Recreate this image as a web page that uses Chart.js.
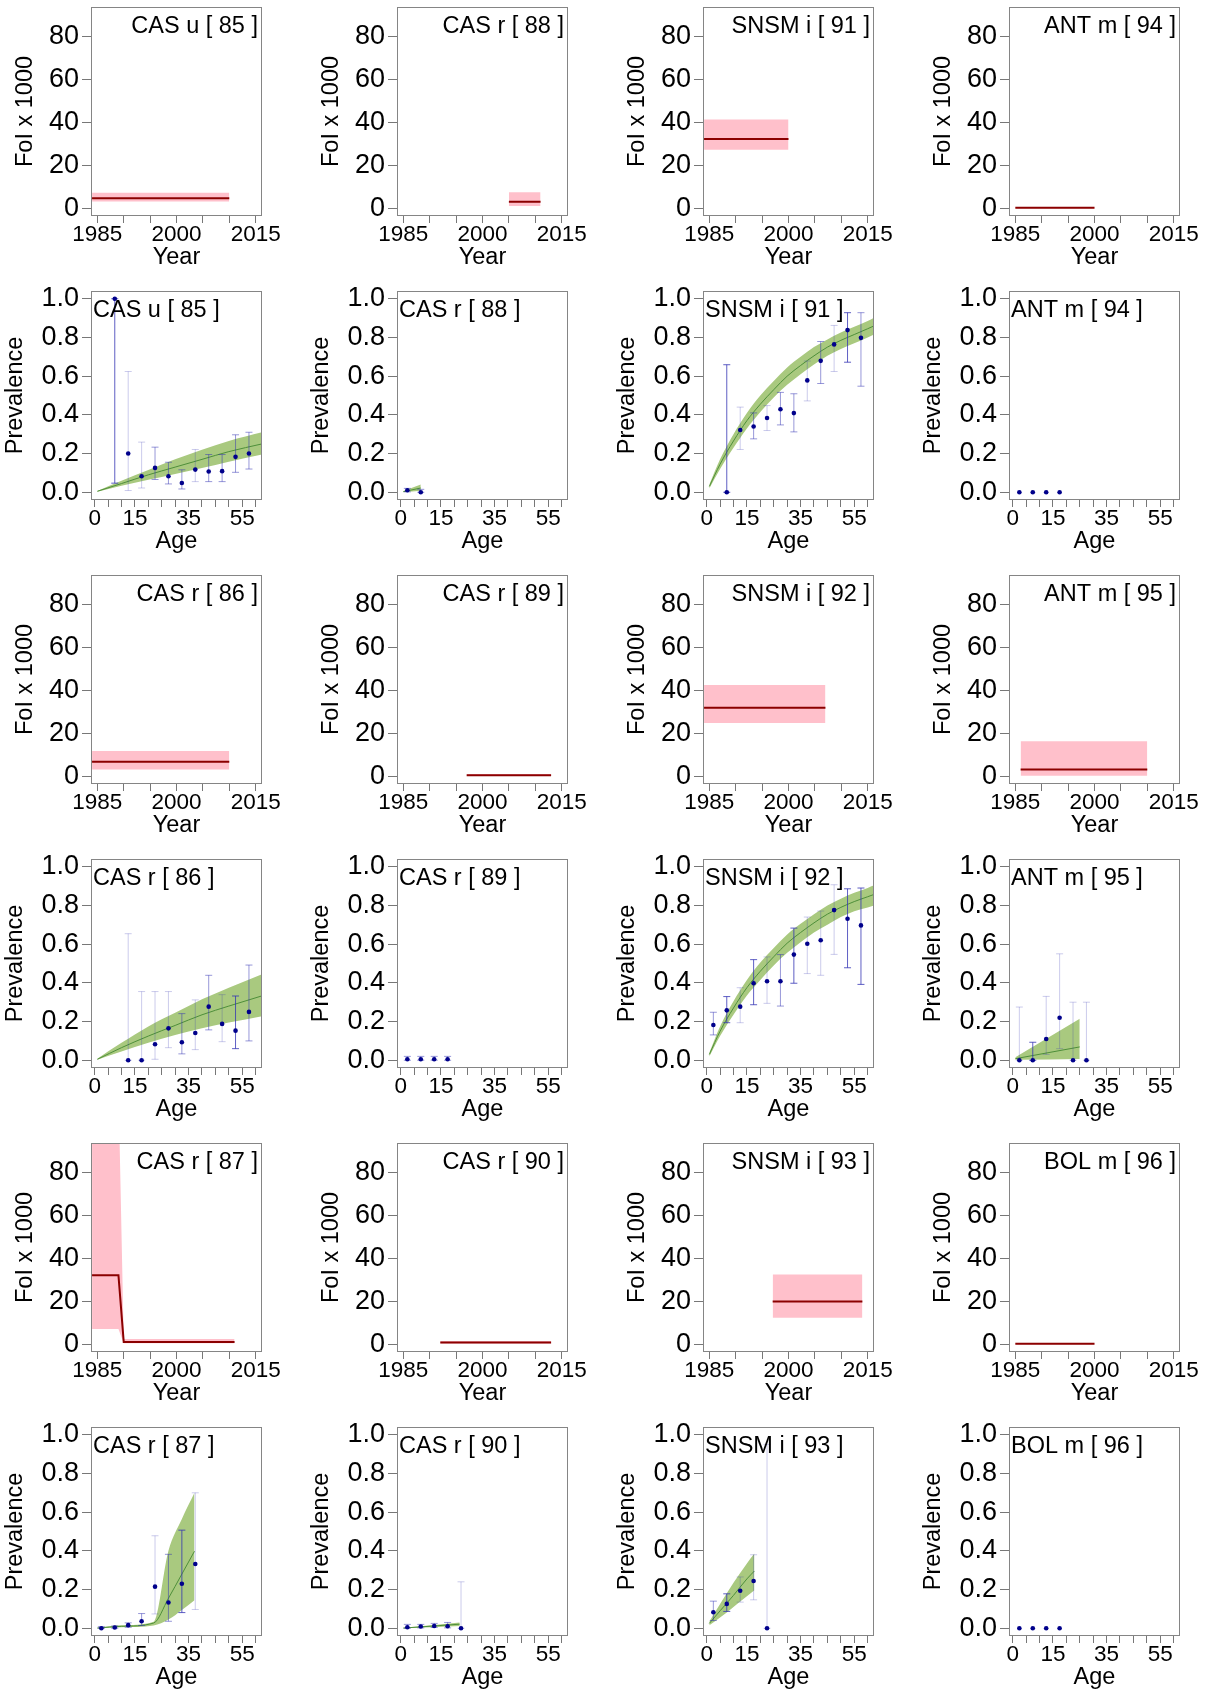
<!DOCTYPE html>
<html lang="en">
<head>
<meta charset="UTF-8" />
<title>FoI and seroprevalence by population</title>
<script src="https://cdn.jsdelivr.net/npm/chart.js@4"></script>
<style>
  body { margin: 0; background: #fff; }
  #wrap { position: relative; width: 1212px; height: 1695px; overflow: hidden; }
  canvas { position: absolute; }
</style>
</head>
<body>
<div id="wrap"></div>
<script>
// ---------- force of infection (x 1000) by year ----------
const years85 = [1984, 2010], foi85 = [4.6, 4.6], foiLo85 = [3.2, 3.2], foiHi85 = [7.2, 7.2];
const years88 = [2005, 2011], foi88 = [3.0, 3.0], foiLo88 = [1.1, 1.1], foiHi88 = [7.4, 7.4];
const years91 = [1984, 2000], foi91 = [32.2, 32.2], foiLo91 = [27.2, 27.2], foiHi91 = [41.3, 41.3];
const years94 = [1985, 2000], foi94 = [0.2, 0.2], foiLo94 = [0.0, 0.0], foiHi94 = [0.5, 0.5];
const years86 = [1984, 2010], foi86 = [6.7, 6.7], foiLo86 = [3.2, 3.2], foiHi86 = [11.8, 11.8];
const years89 = [1997, 2013], foi89 = [0.5, 0.5], foiLo89 = [0.2, 0.2], foiHi89 = [1.0, 1.0];
const years92 = [1984, 2007], foi92 = [31.9, 31.9], foiLo92 = [24.8, 24.8], foiHi92 = [42.4, 42.4];
const years95 = [1986, 2010], foi95 = [3.2, 3.2], foiLo95 = [0.2, 0.2], foiHi95 = [16.3, 16.3];
const years87 = [1984, 1989, 1990, 2011], foi87 = [32.1, 32.1, 1.1, 1.1], foiLo87 = [7.1, 7.1, 0.5, 0.5], foiHi87 = [120, 120, 2.5, 2.5];
const years90 = [1992, 2013], foi90 = [0.8, 0.8], foiLo90 = [0.4, 0.4], foiHi90 = [1.5, 1.5];
const years93 = [1997, 2014], foi93 = [19.9, 19.9], foiLo93 = [12.3, 12.3], foiHi93 = [32.5, 32.5];
const years96 = [1985, 2000], foi96 = [0.2, 0.2], foiLo96 = [0.0, 0.0], foiHi96 = [0.5, 0.5];

// ---------- observed seroprevalence by age group ----------
const ages85 = [7.5, 12.5, 17.5, 22.5, 27.5, 32.5, 37.5, 42.5, 47.5, 52.5, 57.5];
const prev85 = [1.0, 0.2, 0.083, 0.126, 0.083, 0.048, 0.117, 0.107, 0.109, 0.183, 0.2];
const prevLo85 = [0.047, 0.009, 0.022, 0.066, 0.043, 0.017, 0.055, 0.055, 0.055, 0.103, 0.12];
const prevHi85 = [1.0, 0.624, 0.259, 0.233, 0.155, 0.116, 0.221, 0.195, 0.195, 0.297, 0.31];

const ages88 = [2.5, 7.5];
const prev88 = [0.01, 0.0];
const prevLo88 = [0.002, 0.0];
const prevHi88 = [0.02, 0.015];

const ages91 = [7.5, 12.5, 17.5, 22.5, 27.5, 32.5, 37.5, 42.5, 47.5, 52.5, 57.5];
const prev91 = [0.0, 0.322, 0.34, 0.384, 0.429, 0.409, 0.578, 0.679, 0.764, 0.838, 0.798];
const prevLo91 = [0.0, 0.221, 0.276, 0.319, 0.348, 0.312, 0.472, 0.562, 0.624, 0.672, 0.548];
const prevHi91 = [0.659, 0.44, 0.41, 0.448, 0.516, 0.509, 0.678, 0.779, 0.862, 0.928, 0.928];

const ages94 = [2.5, 7.5, 12.5, 17.5];
const prev94 = [0, 0, 0, 0];
const prevLo94 = [0, 0, 0, 0];
const prevHi94 = [0, 0, 0, 0];

const ages86 = [12.5, 17.5, 22.5, 27.5, 32.5, 37.5, 42.5, 47.5, 52.5, 57.5];
const prev86 = [0.0, 0.0, 0.083, 0.165, 0.093, 0.141, 0.277, 0.188, 0.153, 0.25];
const prevLo86 = [0.0, 0.0, 0.005, 0.065, 0.033, 0.055, 0.157, 0.096, 0.06, 0.1];
const prevHi86 = [0.654, 0.355, 0.355, 0.355, 0.241, 0.312, 0.439, 0.339, 0.332, 0.492];

const ages89 = [2.5, 7.5, 12.5, 17.5];
const prev89 = [0.005, 0.005, 0.005, 0.005];
const prevLo89 = [0.0, 0.0, 0.0, 0.0];
const prevHi89 = [0.02, 0.02, 0.02, 0.02];

const ages92 = [2.5, 7.5, 12.5, 17.5, 22.5, 27.5, 32.5, 37.5, 42.5, 47.5, 52.5, 57.5];
const prev92 = [0.182, 0.258, 0.277, 0.398, 0.408, 0.408, 0.546, 0.602, 0.62, 0.776, 0.731, 0.697];
const prevLo92 = [0.131, 0.194, 0.194, 0.287, 0.294, 0.28, 0.398, 0.448, 0.439, 0.547, 0.478, 0.392];
const prevHi92 = [0.248, 0.329, 0.375, 0.52, 0.534, 0.546, 0.683, 0.74, 0.771, 0.907, 0.886, 0.89];

const ages95 = [2.5, 7.5, 12.5, 17.5, 22.5, 27.5];
const prev95 = [0.0, 0.0, 0.11, 0.22, 0.0, 0.0];
const prevLo95 = [0.0, 0.0, 0.03, 0.06, 0.0, 0.0];
const prevHi95 = [0.275, 0.093, 0.33, 0.55, 0.3, 0.3];

const ages87 = [2.5, 7.5, 12.5, 17.5, 22.5, 27.5, 32.5, 37.5];
const prev87 = [0.0, 0.004, 0.016, 0.036, 0.215, 0.133, 0.23, 0.332];
const prevLo87 = [0.0, 0.0, 0.005, 0.014, 0.074, 0.036, 0.081, 0.097];
const prevHi87 = [0.008, 0.012, 0.028, 0.076, 0.478, 0.382, 0.507, 0.7];

const ages90 = [2.5, 7.5, 12.5, 17.5, 22.5];
const prev90 = [0.005, 0.009, 0.012, 0.01, 0.0];
const prevLo90 = [0.0, 0.002, 0.004, 0.002, 0.0];
const prevHi90 = [0.02, 0.02, 0.025, 0.03, 0.24];

const ages93 = [2.5, 7.5, 12.5, 17.5, 22.5];
const prev93 = [0.083, 0.126, 0.194, 0.244, 0.0];
const prevLo93 = [0.04, 0.087, 0.135, 0.147, 0.0];
const prevHi93 = [0.14, 0.178, 0.265, 0.38, 0.95];

const ages96 = [2.5, 7.5, 12.5, 17.5];
const prev96 = [0, 0, 0, 0];
const prevLo96 = [0, 0, 0, 0];
const prevHi96 = [0, 0, 0, 0];

// ---------- fitted prevalence curves ----------
const fitAge85 = [1, 10, 20, 30, 40, 50, 62.4];
const fit85 = [0.005, 0.045, 0.09, 0.13, 0.17, 0.21, 0.25];
const fitLo85 = [0.003, 0.033, 0.065, 0.095, 0.125, 0.158, 0.195];
const fitHi85 = [0.007, 0.06, 0.115, 0.17, 0.22, 0.265, 0.31];

const fitAge88 = [1, 7.5];
const fit88 = [0.003, 0.022];
const fitLo88 = [0.001, 0.008];
const fitHi88 = [0.006, 0.04];

const fitAge91 = [1, 5, 10, 15, 20, 25, 30, 35, 40, 45, 50, 55, 60, 62.4];
const fit91 = [0.03, 0.145, 0.265, 0.37, 0.455, 0.53, 0.6, 0.655, 0.705, 0.75, 0.785, 0.815, 0.845, 0.86];
const fitLo91 = [0.02, 0.12, 0.23, 0.33, 0.415, 0.49, 0.555, 0.61, 0.66, 0.705, 0.74, 0.77, 0.8, 0.815];
const fitHi91 = [0.04, 0.17, 0.3, 0.41, 0.5, 0.575, 0.645, 0.7, 0.75, 0.79, 0.825, 0.855, 0.885, 0.902];

const fitAge86 = [1, 10, 20, 30, 40, 50, 62.4];
const fit86 = [0.005, 0.065, 0.125, 0.18, 0.235, 0.28, 0.333];
const fitLo86 = [0.003, 0.045, 0.09, 0.13, 0.165, 0.195, 0.228];
const fitHi86 = [0.008, 0.09, 0.175, 0.245, 0.315, 0.375, 0.445];

const fitAge92 = [1, 5, 10, 15, 20, 25, 30, 35, 40, 45, 50, 55, 60, 62.4];
const fit92 = [0.03, 0.15, 0.27, 0.375, 0.46, 0.535, 0.605, 0.66, 0.71, 0.755, 0.79, 0.82, 0.845, 0.857];
const fitLo92 = [0.02, 0.125, 0.235, 0.335, 0.415, 0.49, 0.555, 0.61, 0.66, 0.7, 0.74, 0.77, 0.79, 0.8];
const fitHi92 = [0.04, 0.175, 0.305, 0.415, 0.505, 0.58, 0.65, 0.705, 0.755, 0.8, 0.835, 0.865, 0.89, 0.904];

const fitAge95 = [1, 25];
const fit95 = [0.008, 0.069];
const fitLo95 = [0.002, 0.007];
const fitHi95 = [0.015, 0.214];

const fitAge87 = [1, 10, 22, 27.5, 32.5, 37.2];
const fit87 = [0.001, 0.01, 0.027, 0.155, 0.28, 0.398];
const fitLo87 = [0.0, 0.005, 0.014, 0.045, 0.095, 0.145];
const fitHi87 = [0.002, 0.015, 0.033, 0.4, 0.565, 0.7];

const fitAge90 = [1, 22];
const fit90 = [0.001, 0.021];
const fitLo90 = [0.0, 0.012];
const fitHi90 = [0.002, 0.03];

const fitAge93 = [1, 5, 10, 15, 17.8];
const fit93 = [0.025, 0.09, 0.17, 0.255, 0.296];
const fitLo93 = [0.015, 0.055, 0.11, 0.165, 0.196];
const fitHi93 = [0.035, 0.125, 0.235, 0.335, 0.386];

// ---------- axes ----------
const yearTicks = [1985, 1990, 1995, 2000, 2005, 2010, 2015];
const yearLabels = [1985, 2000, 2015];
const ageTicks = [0, 5, 10, 15, 20, 25, 30, 35, 40, 45, 50, 55, 60];
const ageLabels = [0, 15, 35, 55];
const foiTicks = [0, 20, 40, 60, 80];
const prevTicks = [0, 0.2, 0.4, 0.6, 0.8, 1.0];

// error bar shading (light / mid / dark)
const L = 0.25, M = 0.5, D = 0.78;
const shade85 = [D, L, L, M, M, M, L, M, M, M, M];
const shade88 = [M, M];
const shade91 = [D, L, M, L, M, M, L, M, L, D, M];
const shade94 = [M, M, M, M];
const shade86 = [L, L, L, L, M, L, M, L, D, M];
const shade89 = [M, M, M, M];
const shade92 = [M, D, L, D, L, M, D, L, L, L, D, D];
const shade95 = [L, D, L, L, L, L];
const shade87 = [M, M, M, M, L, M, D, L];
const shade90 = [M, M, M, M, L];
const shade93 = [M, D, L, L, L];
const shade96 = [M, M, M, M];

const pops = [
  [
    { name: 'CAS u [ 85 ]', years: years85, foi: foi85, foiLo: foiLo85, foiHi: foiHi85, ages: ages85, prev: prev85, lo: prevLo85, hi: prevHi85, shade: shade85, fitAge: fitAge85, fit: fit85, fitLo: fitLo85, fitHi: fitHi85 },
    { name: 'CAS r [ 88 ]', years: years88, foi: foi88, foiLo: foiLo88, foiHi: foiHi88, ages: ages88, prev: prev88, lo: prevLo88, hi: prevHi88, shade: shade88, fitAge: fitAge88, fit: fit88, fitLo: fitLo88, fitHi: fitHi88 },
    { name: 'SNSM i [ 91 ]', years: years91, foi: foi91, foiLo: foiLo91, foiHi: foiHi91, ages: ages91, prev: prev91, lo: prevLo91, hi: prevHi91, shade: shade91, fitAge: fitAge91, fit: fit91, fitLo: fitLo91, fitHi: fitHi91 },
    { name: 'ANT m [ 94 ]', years: years94, foi: foi94, foiLo: foiLo94, foiHi: foiHi94, ages: ages94, prev: prev94, lo: prevLo94, hi: prevHi94, shade: shade94 },
  ],
  [
    { name: 'CAS r [ 86 ]', years: years86, foi: foi86, foiLo: foiLo86, foiHi: foiHi86, ages: ages86, prev: prev86, lo: prevLo86, hi: prevHi86, shade: shade86, fitAge: fitAge86, fit: fit86, fitLo: fitLo86, fitHi: fitHi86 },
    { name: 'CAS r [ 89 ]', years: years89, foi: foi89, foiLo: foiLo89, foiHi: foiHi89, ages: ages89, prev: prev89, lo: prevLo89, hi: prevHi89, shade: shade89 },
    { name: 'SNSM i [ 92 ]', years: years92, foi: foi92, foiLo: foiLo92, foiHi: foiHi92, ages: ages92, prev: prev92, lo: prevLo92, hi: prevHi92, shade: shade92, fitAge: fitAge92, fit: fit92, fitLo: fitLo92, fitHi: fitHi92 },
    { name: 'ANT m [ 95 ]', years: years95, foi: foi95, foiLo: foiLo95, foiHi: foiHi95, ages: ages95, prev: prev95, lo: prevLo95, hi: prevHi95, shade: shade95, fitAge: fitAge95, fit: fit95, fitLo: fitLo95, fitHi: fitHi95 },
  ],
  [
    { name: 'CAS r [ 87 ]', years: years87, foi: foi87, foiLo: foiLo87, foiHi: foiHi87, ages: ages87, prev: prev87, lo: prevLo87, hi: prevHi87, shade: shade87, fitAge: fitAge87, fit: fit87, fitLo: fitLo87, fitHi: fitHi87 },
    { name: 'CAS r [ 90 ]', years: years90, foi: foi90, foiLo: foiLo90, foiHi: foiHi90, ages: ages90, prev: prev90, lo: prevLo90, hi: prevHi90, shade: shade90, fitAge: fitAge90, fit: fit90, fitLo: fitLo90, fitHi: fitHi90 },
    { name: 'SNSM i [ 93 ]', years: years93, foi: foi93, foiLo: foiLo93, foiHi: foiHi93, ages: ages93, prev: prev93, lo: prevLo93, hi: prevHi93, shade: shade93, fitAge: fitAge93, fit: fit93, fitLo: fitLo93, fitHi: fitHi93 },
    { name: 'BOL m [ 96 ]', years: years96, foi: foi96, foiLo: foiLo96, foiHi: foiHi96, ages: ages96, prev: prev96, lo: prevLo96, hi: prevHi96, shade: shade96 },
  ],
];

// ---------- drawing ----------
const FONT = '"Liberation Sans", Arial, sans-serif';
Chart.defaults.font.family = FONT;
Chart.defaults.color = '#000';

const CANVAS_W = 300, CANVAS_H = 284;
const BOX_LEFT = [91, 397, 703, 1009];

const xy = (xs, ys) => xs.map((x, i) => ({ x: x, y: ys[i] }));

// frame around the plot region plus the panel label
const framePlugin = {
  id: 'frame',
  afterDraw(chart, args, opts) {
    const { ctx, chartArea: a } = chart;
    ctx.save();
    ctx.strokeStyle = '#858585';
    ctx.lineWidth = 1;
    ctx.strokeRect(a.left + 0.5, a.top + 0.5, a.right - a.left - 1, a.bottom - a.top - 1);
    ctx.fillStyle = '#000';
    ctx.font = '23.5px ' + FONT;
    ctx.textBaseline = 'middle';
    if (opts.align === 'right') {
      ctx.textAlign = 'right';
      ctx.fillText(opts.text, a.right - 4, a.top + 20);
    } else {
      ctx.textAlign = 'left';
      ctx.fillText(opts.text, a.left + 2, a.top + 20);
    }
    ctx.restore();
  }
};

function axes(xMin, xMax, xTicks, xLabels, xTitle, yMin, yMax, yTicks, yFmt, yTitle, yTitlePad) {
  return {
    x: {
      type: 'linear', min: xMin, max: xMax,
      afterBuildTicks: s => { s.ticks = xTicks.map(v => ({ value: v })); },
      afterFit: s => { s.height = 60; s.paddingLeft = 0; s.paddingRight = 0; },
      grid: { drawOnChartArea: false, drawTicks: true, tickLength: 7, tickColor: '#777' },
      border: { display: false },
      ticks: {
        autoSkip: false, maxRotation: 0, minRotation: 0, padding: 1,
        font: { size: 22.5, lineHeight: 1 },
        callback: v => xLabels.includes(v) ? String(v) : ''
      },
      title: { display: true, text: xTitle, font: { size: 23.5, lineHeight: 1.2 }, padding: { top: 0, bottom: 3.9 } }
    },
    y: {
      type: 'linear', min: yMin, max: yMax,
      afterBuildTicks: s => { s.ticks = yTicks.map(v => ({ value: v })); },
      afterFit: s => { s.width = 90; s.paddingTop = 0; s.paddingBottom = 0; },
      grid: { drawOnChartArea: false, drawTicks: true, tickLength: 9, tickColor: '#777' },
      border: { display: false },
      ticks: { autoSkip: false, padding: 3, font: { size: 27, lineHeight: 1 }, callback: yFmt },
      title: { display: true, text: yTitle, font: { size: 23.5, lineHeight: 1.2 }, padding: { top: yTitlePad, bottom: 0 } }
    }
  };
}

function baseOptions(scales, label, align) {
  return {
    responsive: false, animation: false, events: [],
    layout: { padding: { left: 0, top: 7, right: CANVAS_W - 90 - 171, bottom: CANVAS_H - 7 - 209 - 60 } },
    scales: scales,
    plugins: { legend: { display: false }, tooltip: { enabled: false }, frame: { text: label, align: align } }
  };
}

function makeCanvas(left, top) {
  const c = document.createElement('canvas');
  c.width = CANVAS_W; c.height = CANVAS_H;
  c.style.left = left + 'px'; c.style.top = top + 'px';
  document.getElementById('wrap').appendChild(c);
  return c;
}

function foiChart(canvas, p) {
  new Chart(canvas, {
    type: 'line',
    data: { datasets: [
      { data: xy(p.years, p.foi), borderColor: '#8b0000', borderWidth: 2, pointRadius: 0, order: 0 },
      { data: xy(p.years, p.foiHi), borderColor: 'rgba(0,0,0,0)', pointRadius: 0, fill: '+1', backgroundColor: '#ffc0cb', order: 1 },
      { data: xy(p.years, p.foiLo), borderColor: 'rgba(0,0,0,0)', pointRadius: 0, order: 2 },
    ]},
    options: baseOptions(
      axes(1983.8, 2016.2, yearTicks, yearLabels, 'Year', -3.6, 93.6, foiTicks, v => String(v), 'FoI x 1000', 10.2),
      p.name, 'right'),
    plugins: [framePlugin]
  });
}

function prevChart(canvas, p) {
  const ds = [];
  ds.push({ data: xy(p.ages, p.prev), showLine: false, pointRadius: 2.3, pointBackgroundColor: '#00008b', pointBorderWidth: 0, order: 0 });
  p.ages.forEach((a, i) => {
    if (p.hi[i] - p.lo[i] < 0.001) return;
    const c = 'rgba(50,50,180,' + p.shade[i] + ')';
    ds.push({
      data: [{ x: a, y: p.lo[i] }, { x: a, y: p.hi[i] }],
      borderColor: c, borderWidth: 1, pointStyle: 'line', pointRadius: 3.5,
      pointBorderColor: c, pointBorderWidth: 1, order: 1
    });
  });
  if (p.fitAge) {
    ds.push({ data: xy(p.fitAge, p.fit), borderColor: '#4e8f3a', borderWidth: 1, pointRadius: 0, cubicInterpolationMode: 'monotone', order: 2 });
    ds.push({ data: xy(p.fitAge, p.fitHi), borderColor: 'rgba(0,0,0,0)', pointRadius: 0, fill: '+1', backgroundColor: '#a9c97f', cubicInterpolationMode: 'monotone', order: 3 });
    ds.push({ data: xy(p.fitAge, p.fitLo), borderColor: 'rgba(0,0,0,0)', pointRadius: 0, cubicInterpolationMode: 'monotone', order: 4 });
  }
  new Chart(canvas, {
    type: 'line',
    data: { datasets: ds },
    options: baseOptions(
      axes(-1.36, 62.36, ageTicks, ageLabels, 'Age', -0.04, 1.04, prevTicks, v => v.toFixed(1), 'Prevalence', 0.2),
      p.name, 'left'),
    plugins: [framePlugin]
  });
}

pops.forEach((group, g) => {
  group.forEach((p, col) => {
    const left = BOX_LEFT[col] - 90;
    foiChart(makeCanvas(left, (2 * g) * 284), p);
    prevChart(makeCanvas(left, (2 * g + 1) * 284), p);
  });
});
</script>
</body>
</html>
